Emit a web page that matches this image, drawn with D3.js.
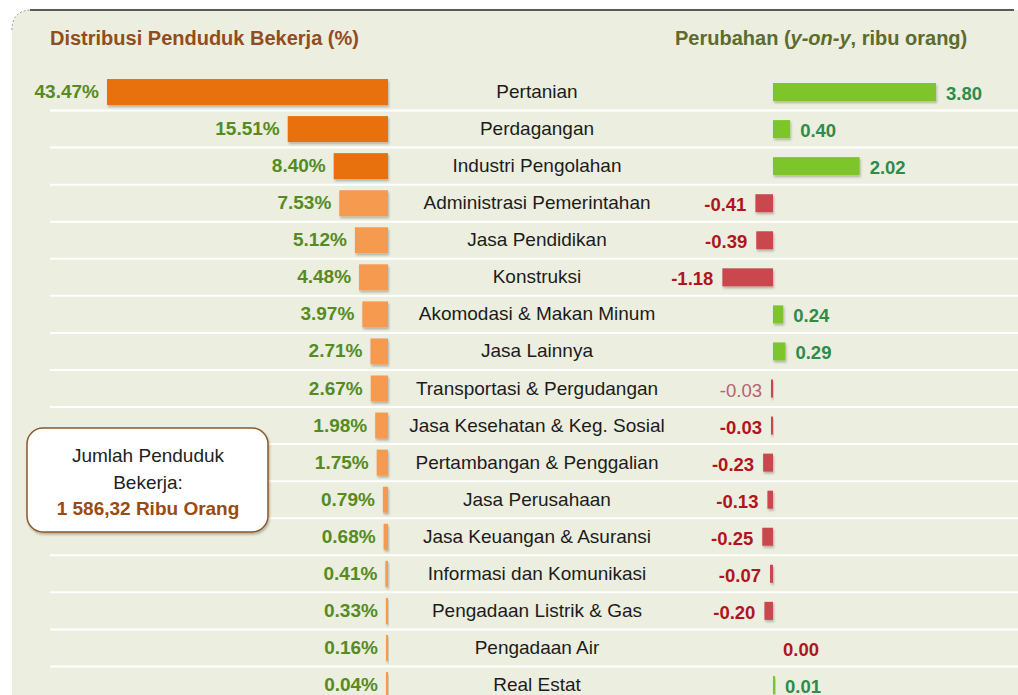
<!DOCTYPE html>
<html>
<head>
<meta charset="utf-8">
<script src="https://cdn.jsdelivr.net/npm/d3@7"></script>
<style>
  body { margin: 0; background: #fff; }
  svg { display: block; font-family: "Liberation Sans", Arial, sans-serif; }
</style>
</head>
<body>
<div id="chart"></div>
<script>
// sectors, share of employed population (%) and y-on-y change (thousand people)
const categories = [
  "Pertanian", "Perdagangan", "Industri Pengolahan", "Administrasi Pemerintahan",
  "Jasa Pendidikan", "Konstruksi", "Akomodasi & Makan Minum", "Jasa Lainnya",
  "Transportasi & Pergudangan", "Jasa Kesehatan & Keg. Sosial", "Pertambangan & Penggalian",
  "Jasa Perusahaan", "Jasa Keuangan & Asuransi", "Informasi dan Komunikasi",
  "Pengadaan Listrik & Gas", "Pengadaan Air", "Real Estat"
];
const shares = [43.47, 15.51, 8.40, 7.53, 5.12, 4.48, 3.97, 2.71, 2.67, 1.98, 1.75, 0.79, 0.68, 0.41, 0.33, 0.16, 0.04];
const changes = [3.80, 0.40, 2.02, -0.41, -0.39, -1.18, 0.24, 0.29, -0.03, -0.03, -0.23, -0.13, -0.25, -0.07, -0.20, 0.00, 0.01];
const topSectors = ["Pertanian", "Perdagangan", "Industri Pengolahan"];
const totalLines = ["Jumlah Penduduk", "Bekerja:", "1 586,32 Ribu Orang"];

const width = 1018;
const height = 695;

const svg = d3.select('#chart')
  .append('svg')
  .attr('width', width)
  .attr('height', height);

const defs = svg.append('defs');
defs.append('filter')
  .attr('id', 'shadow')
  .attr('x', '-20%').attr('y', '-30%').attr('width', '160%').attr('height', '180%')
  .append('feDropShadow')
  .attr('dx', 1).attr('dy', 2).attr('stdDeviation', 1.3)
  .attr('flood-color', '#000').attr('flood-opacity', 0.25);

// panel background
svg.append('path')
  .attr('d', 'M12,695 L12,30 Q12,10 32,10 L1018,10 L1018,695 Z')
  .attr('fill', '#ECEEDF');
svg.append('line')
  .attr('x1', 30).attr('x2', 1014).attr('y1', 10).attr('y2', 10)
  .attr('stroke', '#5a5a5a').attr('stroke-width', 2);
svg.append('path')
  .attr('d', 'M12,30 Q12,10 32,10')
  .attr('fill', 'none').attr('stroke', '#999').attr('stroke-width', 1)
  .attr('stroke-dasharray', '2,2');

const rows = categories.map((c, i) => ({ name: c, share: shares[i], change: changes[i] }));

const y = d3.scaleBand()
  .domain(categories)
  .range([73.5, 703.5]);

const xLeft = d3.scaleLinear().domain([0, 45]).range([388, 388 - 45 * 6.464]);
const xRight = d3.scaleLinear().domain([-1.5, 4]).range([773 - 1.5 * 42.9, 773 + 4 * 42.9]);

// white separators between rows
svg.append('g')
  .selectAll('line')
  .data(categories.slice(1))
  .join('line')
  .attr('x1', 50).attr('x2', width)
  .attr('y1', (d) => y(d)).attr('y2', (d) => y(d))
  .attr('stroke', '#fff').attr('stroke-width', 2);

// titles
svg.append('text')
  .attr('x', 50).attr('y', 45)
  .attr('font-size', 20).attr('font-weight', 'bold')
  .attr('fill', '#934C1C')
  .text('Distribusi Penduduk Bekerja (%)');

const rt = svg.append('text')
  .attr('x', 675).attr('y', 45)
  .attr('font-size', 20).attr('font-weight', 'bold')
  .attr('fill', '#5C6B2E');
rt.append('tspan').text('Perubahan (');
rt.append('tspan').attr('font-style', 'italic').text('y-on-y');
rt.append('tspan').text(', ribu orang)');

const mid = (d) => y(d.name) + y.bandwidth() / 2;

// left bars
svg.append('g')
  .selectAll('rect')
  .data(rows)
  .join('rect')
  .attr('x', (d) => Math.min(xLeft(d.share), xLeft(0) - 2))
  .attr('y', (d) => mid(d) - 13)
  .attr('width', (d) => Math.max(2, xLeft(0) - xLeft(d.share)))
  .attr('height', 26)
  .attr('fill', (d) => topSectors.includes(d.name) ? '#E8700E' : '#F59A50')
  .attr('filter', 'url(#shadow)');

svg.append('g')
  .selectAll('text')
  .data(rows)
  .join('text')
  .attr('x', (d) => Math.min(xLeft(d.share), xLeft(0) - 2) - 8)
  .attr('y', (d) => mid(d) + 6)
  .attr('text-anchor', 'end')
  .attr('font-size', 19).attr('font-weight', 'bold')
  .attr('fill', '#558B22')
  .text((d) => d.share.toFixed(2) + '%');

// category labels
svg.append('g')
  .selectAll('text')
  .data(rows)
  .join('text')
  .attr('x', 537)
  .attr('y', (d) => mid(d) + 6)
  .attr('text-anchor', 'middle')
  .attr('font-size', 19)
  .attr('fill', '#1c1c1c')
  .text((d) => d.name);

// right bars
const barW = (d) => d.change === 0 ? 0 : Math.max(2, Math.abs(xRight(d.change) - xRight(0)));
svg.append('g')
  .selectAll('rect')
  .data(rows)
  .join('rect')
  .attr('x', (d) => d.change >= 0 ? xRight(0) : xRight(0) - barW(d))
  .attr('y', (d) => mid(d) - 9)
  .attr('width', barW)
  .attr('height', 18)
  .attr('fill', (d) => d.change >= 0 ? '#7DC52B' : '#C9474D')
  .attr('filter', 'url(#shadow)');

svg.append('g')
  .selectAll('text')
  .data(rows)
  .join('text')
  .attr('x', (d) => d.change >= 0 ? xRight(0) + barW(d) + 10 : xRight(0) - barW(d) - 9)
  .attr('y', (d) => mid(d) + 8)
  .attr('text-anchor', (d) => d.change >= 0 ? 'start' : 'end')
  .attr('font-size', 18.5)
  .attr('font-weight', (d, i) => i === 8 ? 'normal' : 'bold')
  .attr('fill', (d, i) => {
    if (i === 8) return '#B8606E';
    if (d.change > 0) return '#2E8B4A';
    return '#B0141E';
  })
  .text((d) => d.change.toFixed(2));

// total box
const box = svg.append('g');
box.append('rect')
  .attr('x', 27).attr('y', 428)
  .attr('width', 241).attr('height', 104)
  .attr('rx', 16)
  .attr('fill', '#fff')
  .attr('stroke', '#8B5A2B').attr('stroke-width', 1.5)
  .attr('filter', 'url(#shadow)');

box.selectAll('text')
  .data(totalLines)
  .join('text')
  .attr('x', 148)
  .attr('y', (d, i) => 462 + i * 26.5)
  .attr('text-anchor', 'middle')
  .attr('font-size', 19)
  .attr('font-weight', (d, i) => i === 2 ? 'bold' : 'normal')
  .attr('fill', (d, i) => i === 2 ? '#9A4A12' : '#222')
  .text((d) => d);
</script>
</body>
</html>
